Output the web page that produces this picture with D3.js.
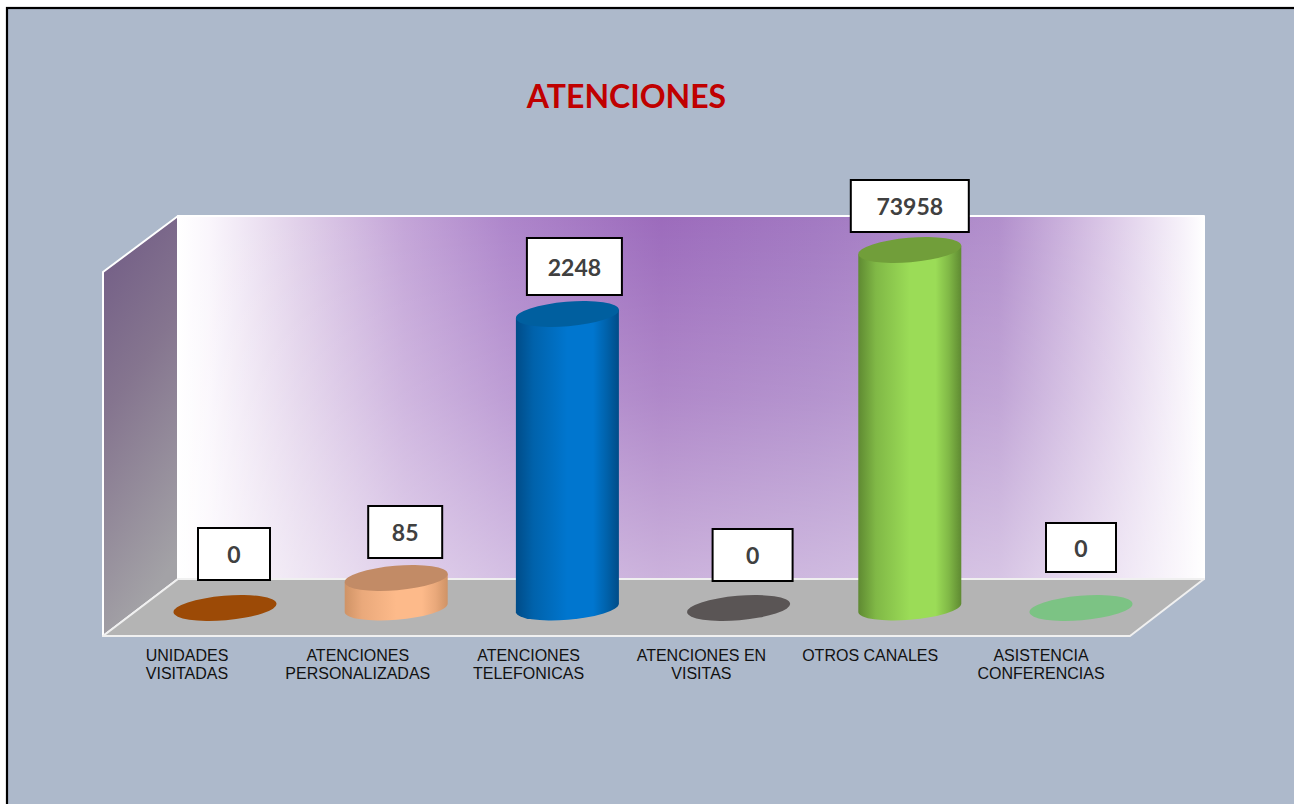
<!DOCTYPE html>
<html>
<head>
<meta charset="utf-8">
<script src="https://cdn.jsdelivr.net/npm/d3@7"></script>
<style>
html, body { margin: 0; padding: 0; background: #fff; overflow: hidden; }
svg { display: block; }
</style>
</head>
<body>
<svg id="chart"></svg>
<script>
// chart values
let titleText = "ATENCIONES"
let categories = [
    ["UNIDADES", "VISITADAS"],
    ["ATENCIONES", "PERSONALIZADAS"],
    ["ATENCIONES", "TELEFONICAS"],
    ["ATENCIONES EN", "VISITAS"],
    ["OTROS CANALES"],
    ["ASISTENCIA", "CONFERENCIAS"]
]
let values = [0, 85, 2248, 0, 73958, 0]

// the original axis is not proportional, these are the breaks read off the bars
let axisBreaks = [0, 85, 2248, 73958]
let axisHeights = [0, 30, 294, 358]

let sideDark = ["#9c4a06", "#cf9366", "#004c88", "#5a5555", "#5f8a32", "#7cc384"]
let sideMid = ["#9c4a06", "#eaa97b", "#0062ab", "#5a5555", "#80b846", "#7cc384"]
let sideLight = ["#9c4a06", "#fdba8a", "#0076cf", "#5a5555", "#9bdc57", "#7cc384"]
let topColors = ["#9c4a06", "#c28b66", "#005f9f", "#5a5555", "#719e3a", "#7cc384"]

// label boxes, offset from bar centre and size
let boxDx = [9, 9, 7, 14, 0, 0]
let boxW = [72, 74, 95, 80, 118, 70]
let boxBottom = [580, 558, 295, 581, 232, 572]
let boxH = [52, 52, 57, 52, 52, 49]
let labelDx = [0, 0, 0, 2, 0, 0]

let W = 1294, H = 804

let svg = d3.select("#chart").attr("width", W).attr("height", H)
let defs = svg.append("defs")

function addGradient(id, attrs, stops) {
    let grad = defs.append("linearGradient").attr("id", id)
    for (let k in attrs) grad.attr(k, attrs[k])
    grad.selectAll("stop")
        .data(stops)
        .enter().append("stop")
        .attr("offset", d => d[0])
        .attr("stop-color", d => d[1])
        .attr("stop-opacity", d => d[2] === undefined ? 1 : d[2])
}

// frame
svg.append("rect")
    .attr("x", 7).attr("y", 8)
    .attr("width", W + 10).attr("height", H + 10)
    .attr("fill", "#adb9cb")
    .attr("stroke", "#000").attr("stroke-width", 2.2)

// back wall: purple across, fading to white towards the floor
addGradient("wallAcross", {x1: 0, x2: 1, y1: 0, y2: 0}, [
    [0, "#ffffff"], [0.03, "#faf6fc"], [0.12, "#e0cfe9"], [0.22, "#c4a5d8"],
    [0.32, "#ae86cb"], [0.47, "#9c6bbc"], [0.62, "#a279c2"], [0.8, "#b28fcc"],
    [0.9, "#d9c5e6"], [0.98, "#f7f2fa"], [1, "#ffffff"]
])
addGradient("wallDown", {x1: 0, x2: 0, y1: 0, y2: 1}, [
    [0, "#ffffff", 0], [0.5, "#ffffff", 0.2], [1, "#ffffff", 0.48]
])
addGradient("sideGrad", {x1: 0, y1: 0, x2: 0.25, y2: 1}, [
    [0, "#705a85"], [0.45, "#85758f"], [1, "#a3a2a6"]
])

let line = d3.line()

function face(points, fill, stroke) {
    svg.append("path")
        .attr("d", line(points) + "Z")
        .attr("fill", fill)
        .attr("stroke", stroke)
        .attr("stroke-width", stroke == "none" ? 0 : 2)
        .attr("stroke-linejoin", "round")
}

let wallPts = [[178, 216], [1204, 216], [1204, 579], [178, 579]]
face(wallPts, "url(#wallAcross)", "none")
face(wallPts, "url(#wallDown)", "#fff")
face([[103, 272], [178, 216], [178, 579], [103, 636]], "url(#sideGrad)", "#fff")
face([[178, 579], [1204, 579], [1130, 636], [103, 636]], "#b4b4b4", "#f0f0f0")

// scales
let x = d3.scalePoint().domain(d3.range(categories.length)).range([225, 1081])
let labelX = d3.scalePoint().domain(d3.range(categories.length)).range([187, 1041])
let baseY = 608
let h = d3.scaleLinear().domain(axisBreaks).range(axisHeights)

// tilted ellipse of the cylinders
let a = 51.7, b = 12.2, tilt = -4.8
let halfW = 51.5, edgeDy = 4.2

let bars = svg.selectAll(".bar")
    .data(values)
    .enter().append("g")
    .attr("class", "bar")

bars.each(function(d, i) {
    let g = d3.select(this)
    let cx = x(i), top = baseY - h(d)

    if (d > 0) {
        addGradient("bar" + i, {x1: 0, x2: 1, y1: 0, y2: 0}, [
            [0, sideDark[i]], [0.17, sideMid[i]], [0.5, sideLight[i]],
            [0.75, sideLight[i]], [0.88, sideMid[i]], [1, sideDark[i]]
        ])

        g.append("path")
            .attr("fill", "url(#bar" + i + ")")
            .attr("d", "M" + (cx - halfW) + "," + (top + edgeDy) +
                "L" + (cx - halfW) + "," + (baseY + edgeDy) +
                "A" + a + "," + b + " " + tilt + " 0 0 " + (cx + halfW) + "," + (baseY - edgeDy) +
                "L" + (cx + halfW) + "," + (top - edgeDy) + "Z")
    }

    g.append("ellipse")
        .attr("rx", a).attr("ry", b)
        .attr("transform", "translate(" + cx + "," + top + ") rotate(" + tilt + ")")
        .attr("fill", topColors[i])
})

// value boxes
let boxes = svg.selectAll(".box")
    .data(values)
    .enter().append("g")
    .attr("class", "box")

boxes.append("rect")
    .attr("x", (d, i) => x(i) + boxDx[i] - boxW[i] / 2)
    .attr("y", (d, i) => boxBottom[i] - boxH[i])
    .attr("width", (d, i) => boxW[i])
    .attr("height", (d, i) => boxH[i])
    .attr("fill", "#fff")
    .attr("stroke", "#000")
    .attr("stroke-width", 2)

boxes.append("text")
    .attr("x", (d, i) => x(i) + boxDx[i])
    .attr("y", (d, i) => boxBottom[i] - boxH[i] / 2 + 9)
    .attr("text-anchor", "middle")
    .attr("font-family", "Lato, sans-serif")
    .attr("font-weight", 700)
    .attr("font-size", 23)
    .attr("fill", "#404040")
    .text(d => d)

// category labels
let labels = svg.selectAll(".cat")
    .data(categories)
    .enter().append("text")
    .attr("class", "cat")
    .attr("text-anchor", "middle")
    .attr("font-family", "'Liberation Sans', Arial, sans-serif")
    .attr("font-size", 16)
    .attr("fill", "#111")

labels.selectAll("tspan")
    .data((d, i) => d.map(t => ({t: t, i: i})))
    .enter().append("tspan")
    .attr("x", d => labelX(d.i) + labelDx[d.i])
    .attr("y", (d, j) => 661 + j * 18)
    .text(d => d.t)

// title
svg.append("text")
    .attr("x", 626.5).attr("y", 107.5)
    .attr("text-anchor", "middle")
    .attr("font-family", "Lato, sans-serif")
    .attr("font-weight", 700)
    .attr("font-size", 32)
    .attr("fill", "#c00000")
    .text(titleText)
</script>
</body>
</html>
